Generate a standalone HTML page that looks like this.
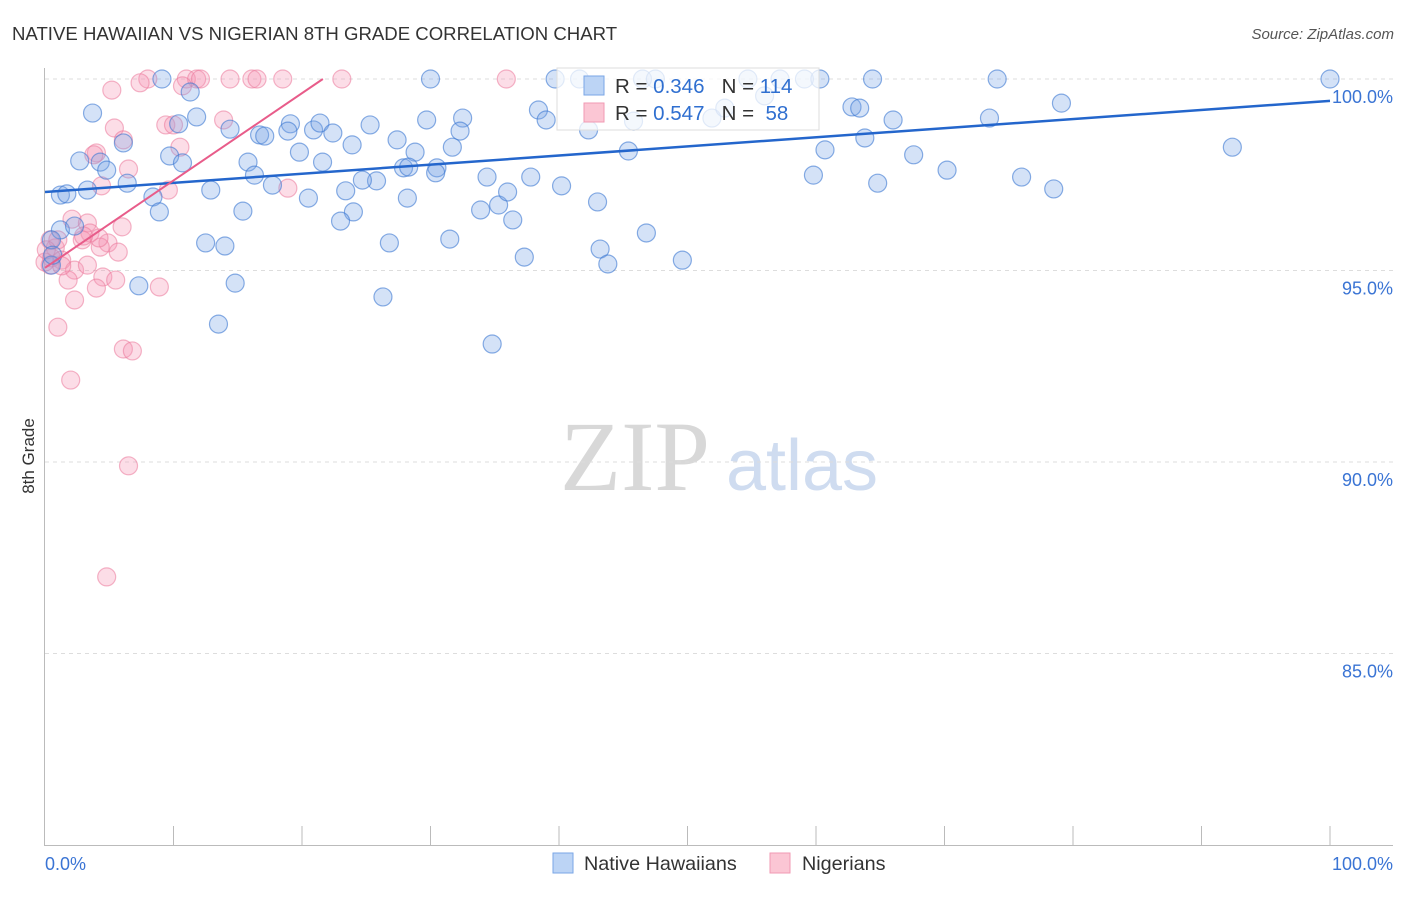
<!DOCTYPE html>
<html><head><meta charset="utf-8"><style>
body{margin:0;background:#fff;font-family:"Liberation Sans",sans-serif;}
svg text{font-family:"Liberation Sans",sans-serif;}
svg text.serif{font-family:"Liberation Serif",serif;}
</style></head><body>
<svg id="chart" width="1406" height="892" xmlns="http://www.w3.org/2000/svg">
<text x="12" y="40" font-size="18.6" fill="#333">NATIVE HAWAIIAN VS NIGERIAN 8TH GRADE CORRELATION CHART</text>
<text x="1394" y="39" font-size="15" fill="#555" text-anchor="end" font-style="italic">Source: ZipAtlas.com</text>
<text transform="translate(34,456) rotate(-90)" font-size="17" fill="#333" text-anchor="middle">8th Grade</text>
<g><text class="serif" x="635" y="490" font-size="100" fill="#d8d8d8" text-anchor="middle">ZIP</text><text x="802" y="490" font-size="72" fill="#cfdcf0" text-anchor="middle">atlas</text></g>
<g id="grid"></g><g id="axes"></g><g id="pts"></g><g id="lines"></g>
<g>
<rect x="557" y="68" width="262" height="62" fill="rgba(255,255,255,0.75)" stroke="#ddd"/>
<rect x="584" y="76" width="20" height="19" fill="#bcd4f5" stroke="#7aa6e6"/>
<rect x="584" y="103" width="20" height="19" fill="#fbc6d4" stroke="#f09ab3"/>
<text x="615" y="93" font-size="20.5" fill="#333">R = <tspan fill="#2f6fd0">0.346</tspan>&#160;&#160;&#160;N = <tspan fill="#2f6fd0">114</tspan></text>
<text x="615" y="120" font-size="20.5" fill="#333">R = <tspan fill="#2f6fd0">0.547</tspan>&#160;&#160;&#160;N = &#160;<tspan fill="#2f6fd0">58</tspan></text>
</g>
<g>
<rect x="553" y="853" width="20" height="20" fill="#bcd4f5" stroke="#7aa6e6"/>
<text x="584" y="870" font-size="19.8" fill="#333">Native Hawaiians</text>
<rect x="770" y="853" width="20" height="20" fill="#fbc6d4" stroke="#f09ab3"/>
<text x="802" y="870" font-size="19.8" fill="#333">Nigerians</text>
</g>
</svg>
<script>
const yTicks=[100,95,90,85];
const yTickLabels=["100.0%","95.0%","90.0%","85.0%"];
const xEndLabels=["0.0%","100.0%"];
const blueX=[9.1,11.3,3.7,11.8,10.4,14.4,16.7,17.1,19.1,18.9,20.9,21.4,22.4,2.7,4.3,6.1,4.8,6.4,1.2,1.7,3.3,9.7,10.7,8.4,8.9,12.9,15.8,16.3,17.7,19.8,21.6,23.9,25.3,27.4,29.7,32.5,32.3,31.7,28.8,27.9,28.3,30.5,30.4,28.2,25.8,24.7,23.4,24.0,23.0,20.5,15.4,12.5,14.0,7.3,14.8,13.5,26.3,26.8,31.5,34.8,33.9,35.3,36.0,36.4,34.4,37.8,37.3,38.4,39.0,40.2,41.6,42.3,43.0,43.2,43.8,45.4,45.8,46.8,49.6,46.5,51.9,56.0,59.1,60.3,59.8,60.7,62.8,63.4,63.8,64.4,64.8,66.0,67.6,70.2,73.5,74.1,76.0,78.5,79.1,92.4,100,1.2,2.3,0.5,0.5,0.6,57.2,54.7,47.5,30.0,39.7,52.9];
const blueY=[100,99.66,99.11,99.01,98.83,98.69,98.54,98.51,98.83,98.64,98.67,98.85,98.59,97.86,97.83,98.33,97.62,97.28,96.97,97.0,97.1,97.99,97.81,96.92,96.53,97.1,97.83,97.49,97.23,98.09,97.83,98.28,98.8,98.41,98.93,98.98,98.64,98.22,98.09,97.68,97.7,97.68,97.55,96.89,97.34,97.36,97.08,96.53,96.29,96.89,96.55,95.72,95.64,94.6,94.67,93.6,94.31,95.72,95.82,93.08,96.58,96.71,97.05,96.32,97.44,97.44,95.35,99.19,98.93,97.21,100,98.67,96.79,95.56,95.17,98.12,98.9,95.98,95.27,100,98.98,99.56,100,100,97.49,98.15,99.27,99.24,98.46,100,97.28,98.93,98.02,97.62,98.98,100,97.44,97.13,99.37,98.22,100,96.06,96.16,95.8,95.14,95.4,100,100,100,100,100,99.24];
const pinkX=[8.0,7.4,5.2,11.0,11.8,12.1,14.4,16.1,16.5,18.5,23.1,35.9,10.7,9.4,10.0,5.4,4.0,3.8,6.1,10.5,13.9,6.5,4.4,9.6,18.9,2.1,3.3,3.5,6.0,2.9,4.9,4.3,4.2,5.7,0.4,0.8,0.5,1.3,2.3,3.3,4.5,5.5,1.8,4.0,8.9,2.3,1.0,6.1,6.8,2.0,6.5,4.8,0.4,0,1.0,0.1,1.3,3.0];
const pinkY=[100,99.9,99.71,100,100,100,100,100,100,100,100,100,99.82,98.8,98.8,98.72,98.07,98.02,98.41,98.22,98.93,97.65,97.21,97.1,97.15,96.34,96.24,95.98,96.14,95.8,95.72,95.61,95.85,95.48,95.8,95.59,95.33,95.27,95.01,95.14,94.83,94.75,94.75,94.54,94.57,94.23,93.52,92.95,92.9,92.14,89.9,87.0,95.14,95.22,95.8,95.54,95.12,95.9];
const blueFit=[97.05,99.43]; // y at x=0 and x=100
const pinkFit=[95.07,0.228]; // intercept, slope per %
const NS="http://www.w3.org/2000/svg";
const X=v=>45+v*12.85, Y=v=>79+(100-v)*38.3;
function mk(tag,attrs,parent){const e=document.createElementNS(NS,tag);for(const k in attrs)e.setAttribute(k,attrs[k]);document.getElementById(parent).appendChild(e);return e;}
yTicks.forEach((t,i)=>{
 const g=mk('line',{x1:45,x2:1393,y1:Y(t),y2:Y(t),stroke:'#ddd','stroke-dasharray':'4,4'},'grid');
 
 
 const l=mk('text',{x:1393,y:Y(t)+24,'font-size':18,fill:'#3a74d4','text-anchor':'end'},'axes');l.textContent=yTickLabels[i];
 
 
});
let ax=mk('line',{x1:44.5,x2:44.5,y1:68,y2:845,stroke:'#bbb'},'axes');


ax=mk('line',{x1:44,x2:1393,y1:845.5,y2:845.5,stroke:'#bbb'},'axes');


for(let i=1;i<=10;i++){const t=mk('line',{x1:X(i*10),x2:X(i*10),y1:826,y2:845,stroke:'#bbb'},'axes');
 
 }
[[0,'start',45],[100,'end',1393]].forEach((d,i)=>{const t=mk('text',{x:d[2],y:870,'font-size':18,fill:'#3a74d4','text-anchor':d[1]},'axes');t.textContent=xEndLabels[i];
 
 });
pinkX.forEach((x,i)=>{const c=mk('circle',{cx:X(x),cy:Y(pinkY[i]),r:9,fill:'rgba(245,150,180,0.32)',stroke:'rgba(235,120,155,0.55)','stroke-width':1.2},'pts');
 
 });
blueX.forEach((x,i)=>{const c=mk('circle',{cx:X(x),cy:Y(blueY[i]),r:9,fill:'rgba(120,165,230,0.32)',stroke:'rgba(60,120,210,0.6)','stroke-width':1.2},'pts');
 
 });
let ln=mk('line',{x1:X(0),y1:Y(blueFit[0]),x2:X(100),y2:Y(blueFit[1]),stroke:'#2466cc','stroke-width':2.5},'lines');


const pEnd=(100-pinkFit[0])/pinkFit[1];
ln=mk('line',{x1:X(0),y1:Y(pinkFit[0]),x2:X(pEnd),y2:Y(pinkFit[0]+pinkFit[1]*pEnd),stroke:'#e85c8a','stroke-width':2},'lines');


</script>
</body></html>
